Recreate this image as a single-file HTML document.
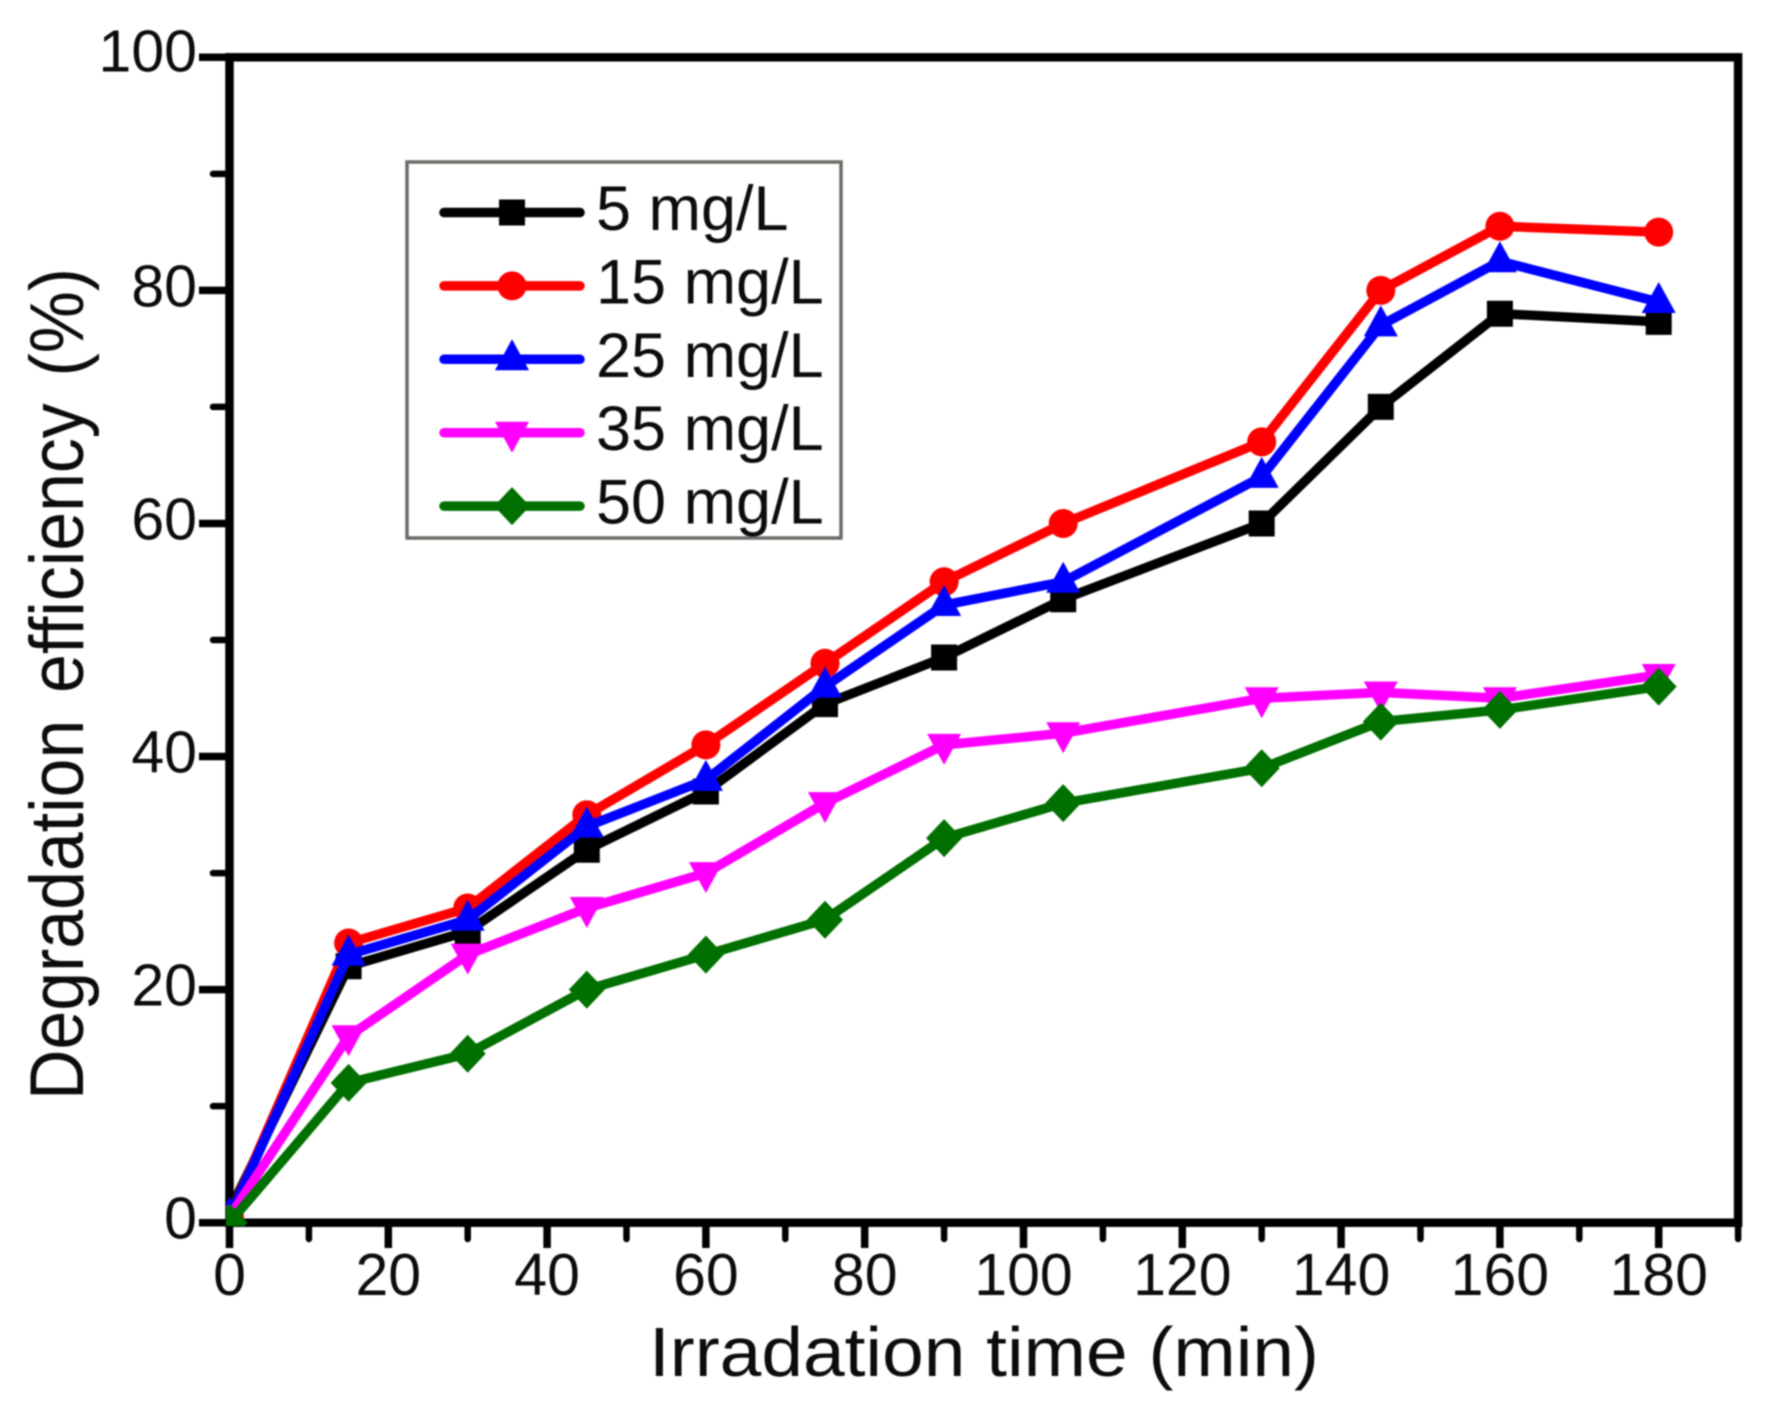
<!DOCTYPE html>
<html lang="en">
<head>
<meta charset="utf-8">
<title>Degradation efficiency vs irradiation time</title>
<style>
html,body{margin:0;padding:0;background:#fff;}
body{width:1774px;height:1415px;overflow:hidden;}
svg{display:block;filter:blur(0.8px);}
text{font-family:"Liberation Sans",Arial,sans-serif;fill:#0c0c0c;}
</style>
</head>
<body>
<svg id="chart" xmlns="http://www.w3.org/2000/svg" width="1774" height="1415" viewBox="0 0 1774 1415">
  <defs>
    <clipPath id="plot-clip"><rect x="226" y="0" width="1548" height="1226"/></clipPath>
  </defs>
  <rect x="0" y="0" width="1774" height="1415" fill="#ffffff"/>
  <g id="axes"></g>
  <g id="series" clip-path="url(#plot-clip)"></g>
  <g id="legend"></g>
  <text x="984" y="1376" font-size="70" text-anchor="middle" textLength="670" lengthAdjust="spacingAndGlyphs">Irradation time (min)</text>
  <text transform="translate(83,684) rotate(-90)" font-size="76" word-spacing="8" text-anchor="middle" textLength="832" lengthAdjust="spacingAndGlyphs">Degradation efficiency (%)</text>
</svg>
<script>
const times = [0, 15, 30, 45, 60, 75, 90, 105, 130, 145, 160, 180];
const values5 = [1, 22, 25, 32, 37, 44.5, 48.5, 53.5, 60, 70, 78, 77.3];
const values15 = [0.5, 24, 27, 35, 41, 48, 55, 60, 67, 80, 85.5, 85];
const values25 = [0.5, 23, 26, 34, 38, 46, 53, 55, 64, 77, 82.5, 79];
const values35 = [0.5, 16, 23, 27, 30, 36, 41, 42, 45, 45.5, 45, 47];
const values50 = [0, 12, 14.5, 20, 23, 26, 33, 36, 39, 43, 44, 46];
const seriesLabels = ["5 mg/L", "15 mg/L", "25 mg/L", "35 mg/L", "50 mg/L"];
const seriesColors = ["#000000", "#ff0000", "#0000ff", "#ff00ff", "#007000"];
const seriesMarkers = ["square", "circle", "triangle", "inverted", "diamond"];
const seriesValues = [values5, values15, values25, values35, values50];
const xMajorTicks = [0, 20, 40, 60, 80, 100, 120, 140, 160, 180];
const xMinorTicks = [10, 30, 50, 70, 90, 110, 130, 150, 170, 190];
const yMajorTicks = [0, 20, 40, 60, 80, 100];
const yMinorTicks = [10, 30, 50, 70, 90];

const NS = "http://www.w3.org/2000/svg";
function xScale(v) { return 229.5 + v * 7.94; }
function yScale(v) { return 1222.7 - v * 11.654; }

function addLine(parent, x1, y1, x2, y2, stroke, width, cap) {
  const l = document.createElementNS(NS, "line");
  l.setAttribute("x1", x1);
  l.setAttribute("y1", y1);
  l.setAttribute("x2", x2);
  l.setAttribute("y2", y2);
  l.setAttribute("stroke", stroke);
  l.setAttribute("stroke-width", width);
  l.setAttribute("stroke-linecap", cap || "butt");
  parent.appendChild(l);
  return l;
}
function addText(parent, x, y, size, anchor, str) {
  const t = document.createElementNS(NS, "text");
  t.setAttribute("x", x);
  t.setAttribute("y", y);
  t.setAttribute("font-size", size);
  t.setAttribute("text-anchor", anchor);
  t.textContent = str;
  parent.appendChild(t);
  return t;
}
function addMarker(parent, kind, cx, cy, color) {
  let m;
  if (kind === "circle") {
    m = document.createElementNS(NS, "circle");
    m.setAttribute("cx", cx);
    m.setAttribute("cy", cy);
    m.setAttribute("r", 14.5);
  } else {
    let pts;
    if (kind === "square") pts = [[-13, -13], [13, -13], [13, 13], [-13, 13]];
    if (kind === "triangle") pts = [[0, -20], [17, 11], [-17, 11]];
    if (kind === "inverted") pts = [[0, 20], [17, -11], [-17, -11]];
    if (kind === "diamond") pts = [[0, -19], [18, 0], [0, 19], [-18, 0]];
    m = document.createElementNS(NS, "polygon");
    m.setAttribute("points", pts.map(function (p) { return (cx + p[0]) + "," + (cy + p[1]); }).join(" "));
  }
  m.setAttribute("fill", color);
  parent.appendChild(m);
  return m;
}

const axes = document.getElementById("axes");
const seriesLayer = document.getElementById("series");
const legend = document.getElementById("legend");

const axisTop = yScale(100);
const axisBottom = yScale(0);
const axisLeft = xScale(0);
const axisRight = xScale(190);
const lineWidth = 9.5;

const frame = document.createElementNS(NS, "rect");
frame.setAttribute("x", axisLeft);
frame.setAttribute("y", axisTop);
frame.setAttribute("width", axisRight - axisLeft);
frame.setAttribute("height", axisBottom - axisTop);
frame.setAttribute("fill", "none");
frame.setAttribute("stroke", "#000");
frame.setAttribute("stroke-width", 8.5);


axes.appendChild(frame);

xMajorTicks.forEach(function (v) {
  const tick = addLine(axes, xScale(v), axisBottom, xScale(v), 1248, "#000", 7.5);
  
  
  const label = addText(axes, xScale(v), 1295, 59, "middle", String(v));
  
  
});
xMinorTicks.forEach(function (v) {
  const tick = addLine(axes, xScale(v), axisBottom, xScale(v), 1239, "#000", 6.5, "round");
  
  
});
yMajorTicks.forEach(function (v) {
  const tick = addLine(axes, 199, yScale(v), axisLeft, yScale(v), "#000", 7.5);
  
  
  const label = addText(axes, 197, yScale(v) + (v === 100 ? 14 : 16), 59, "end", String(v));
  
  
});
yMinorTicks.forEach(function (v) {
  const tick = addLine(axes, 213, yScale(v), axisLeft, yScale(v), "#000", 6.5, "round");
  
  
});

seriesValues.forEach(function (vals, i) {
  const g = document.createElementNS(NS, "g");
  
  
  const path = document.createElementNS(NS, "polyline");
  path.setAttribute("points", vals.map(function (v, j) { return xScale(times[j]) + "," + yScale(v); }).join(" "));
  path.setAttribute("fill", "none");
  path.setAttribute("stroke", seriesColors[i]);
  path.setAttribute("stroke-width", lineWidth);
  path.setAttribute("stroke-linejoin", "round");
  
  
  g.appendChild(path);
  vals.forEach(function (v, j) {
    const mk = addMarker(g, seriesMarkers[i], xScale(times[j]), yScale(v), seriesColors[i]);
    
    
  });
  seriesLayer.appendChild(g);
});

const legendBox = document.createElementNS(NS, "rect");
legendBox.setAttribute("x", 407);
legendBox.setAttribute("y", 162);
legendBox.setAttribute("width", 434);
legendBox.setAttribute("height", 376);
legendBox.setAttribute("fill", "#ffffff");
legendBox.setAttribute("stroke", "#6e6a66");
legendBox.setAttribute("stroke-width", 3.5);


legend.appendChild(legendBox);

seriesLabels.forEach(function (name, i) {
  const rowY = 212.5 + i * 73.4;
  const line = addLine(legend, 444, rowY, 580, rowY, seriesColors[i], 9.5, "round");
  
  
  const mk = addMarker(legend, seriesMarkers[i], 512, rowY, seriesColors[i]);
  
  
  const label = addText(legend, 596, rowY + 17.5, 63, "start", name);
  
  
});
</script>
</body>
</html>
